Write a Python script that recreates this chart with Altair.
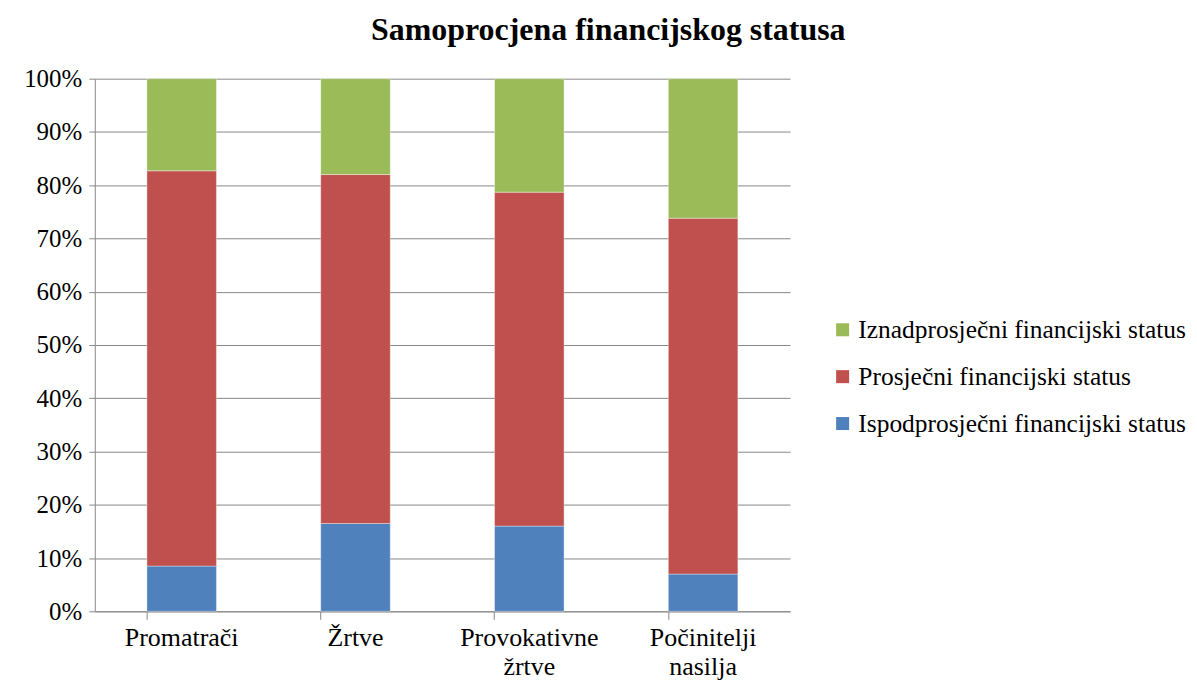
import altair as alt
import pandas as pd

categories = ["Promatrači", "Žrtve", "Provokativne žrtve", "Počinitelji nasilja"]
series = ["Iznadprosječni financijski status", "Prosječni financijski status", "Ispodprosječni financijski status"]
below = [8.5, 16.5, 16.0, 7.0]
average = [74.2, 65.5, 62.7, 66.8]
above = [17.3, 18.0, 21.3, 26.2]
colors = ["#9BBB59", "#C0504D", "#4F81BD"]
y_ticks = [0, 0.1, 0.2, 0.3, 0.4, 0.5, 0.6, 0.7, 0.8, 0.9, 1.0]

rows = []
for i, c in enumerate(categories):
    rows.append({"cat": c, "series": series[2], "value": below[i] / 100, "ord": 1})
    rows.append({"cat": c, "series": series[1], "value": average[i] / 100, "ord": 2})
    rows.append({"cat": c, "series": series[0], "value": above[i] / 100, "ord": 3})
df = pd.DataFrame(rows)

FONT = "Liberation Serif"

chart = alt.Chart(df).mark_bar(stroke="#ffffff", strokeWidth=0.6, strokeOpacity=0.6).encode(
    x=alt.X("cat:N", sort=categories, title=None,
            scale=alt.Scale(paddingInner=0.6, paddingOuter=0.3),
            axis=alt.Axis(labelAngle=0, labelExpr="split(datum.label, ' ')",
                          labelFontSize=26, labelFont=FONT, labelColor="#000",
                          bandPosition=0, tickSize=8, tickColor="#888", domainColor="#888",
                          labelPadding=5, labelLineHeight=29)),
    y=alt.Y("value:Q", stack="zero", title=None,
            scale=alt.Scale(domain=[0, 1]),
            axis=alt.Axis(values=y_ticks, format=".0%", labelFontSize=25, labelFont=FONT,
                          labelColor="#000", tickSize=6, tickColor="#888", domainColor="#888",
                          gridColor="#888", labelPadding=7)),
    color=alt.Color("series:N", scale=alt.Scale(domain=series, range=colors),
                    legend=alt.Legend(title=None, orient="none", legendX=737, legendY=239,
                                      labelFontSize=25.5, labelFont=FONT, labelColor="#000",
                                      symbolType="square", symbolSize=170, symbolStrokeWidth=0,
                                      rowPadding=20, labelOffset=3, labelLimit=500)),
    order=alt.Order("ord:Q", sort="ascending"),
).properties(
    width=697, height=534,
    padding={"left": 15, "top": 5, "right": 2, "bottom": 0},
    title=alt.TitleParams("Samoprocjena financijskog statusa", font=FONT, fontSize=32,
                          fontWeight="bold", color="#000", anchor="middle", frame="bounds",
                          offset=20, dx=3),
).configure(font=FONT).configure_legend(labelFont=FONT).configure_view(stroke=None).configure_axisX(grid=False)

chart.save("out.html", embed_options={"renderer": "svg", "actions": False})
